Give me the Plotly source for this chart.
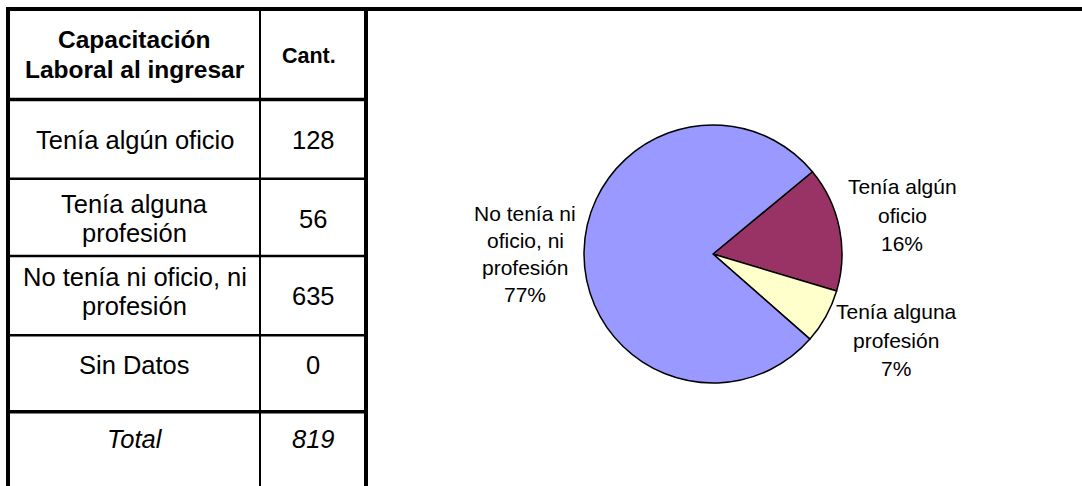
import plotly.graph_objects as go

# ---- data ----
header_labels = ["Capacitación<br>Laboral al ingresar", "Cant."]
categories = ["Tenía algún oficio", "Tenía alguna profesión",
              "No tenía ni oficio, ni profesión", "Sin Datos"]
table_labels = ["Tenía algún oficio", "Tenía alguna<br>profesión",
                "No tenía ni oficio, ni<br>profesión", "Sin Datos"]
counts = [128, 56, 635, 0]
total_label = "Total"
total_value = 819
pie_labels = ["Tenía algún<br>oficio", "Tenía alguna<br>profesión",
              "No tenía ni<br>oficio, ni<br>profesión"]
pie_pct = ["16%", "7%", "77%"]
pie_colors = ["#993366", "#FFFFCC", "#9999FF"]

W, H = 1082, 486
FONT = "Liberation Sans, Arial, sans-serif"

fig = go.Figure()

# ---- pie (only categories with data) ----
pie_vals = [v for v in counts if v > 0]
cx, cy, r = 713, 254, 129
fig.add_trace(go.Pie(
    values=pie_vals,
    labels=[l.replace("<br>", " ") for l in pie_labels],
    textinfo="none",
    sort=False,
    direction="clockwise",
    rotation=50.4,
    marker=dict(colors=pie_colors, line=dict(color="black", width=1.5)),
    showlegend=False,
    hoverinfo="label+value+percent",
    domain=dict(x=[(cx - r) / W, (cx + r) / W],
                y=[(H - cy - r) / H, (H - cy + r) / H]),
))

# ---- table geometry ----
x_left, x_mid, x_right = 8, 260, 366
y_top = 9
row_edges = [9, 99.5, 178.7, 256, 335.3, 411.7]
thick, thin = 4, 2

shapes = []
def line(x0, y0, x1, y1, w):
    shapes.append(dict(type="line", xref="x", yref="y", x0=x0, y0=y0, x1=x1, y1=y1,
                       line=dict(color="black", width=w)))

line(x_left - 2, y_top, W, y_top, thick)
line(x_left, y_top, x_left, H, thick)
line(x_mid, y_top, x_mid, H, thin)
line(x_right, y_top, x_right, H, thick)
for i, y in enumerate(row_edges[1:]):
    if i == 0 or i == len(row_edges) - 2:
        line(x_left, y, x_right + 2, y, thick - 0.5)
    else:
        line(x_left, y, x_right, y, thin + 0.5)

annotations = []
def txt(x, y, s, size, spacing, bold=False, italic=False):
    parts = s.split("<br>")
    n = len(parts)
    for k, p in enumerate(parts):
        if bold:
            p = "<b>" + p + "</b>"
        if italic:
            p = "<i>" + p + "</i>"
        annotations.append(dict(xref="x", yref="y", x=x, y=y + (k - (n - 1) / 2) * spacing,
                                text=p, showarrow=False,
                                xanchor="center", yanchor="middle", align="center",
                                font=dict(family=FONT, size=size, color="black")))

c1 = (x_left + x_mid) / 2 + 0.5
c2 = (x_mid + x_right) / 2
# text centres of the rows (header, 4 categories, total)
label_y = [54, 139.5, 218, 291.5, 364.5, 439]
value_y = [56, 139.5, 219, 296, 365, 439]

txt(c1, label_y[0], header_labels[0], 24.5, 30, bold=True)
txt(c2 - 4, value_y[0], header_labels[1], 21.5, 30, bold=True)
for i, (lab, v) in enumerate(zip(table_labels, counts)):
    txt(c1, label_y[i + 1], lab, 25.5, 29)
    txt(c2, value_y[i + 1], str(v), 25.5, 29)
txt(c1, label_y[5], total_label, 25.5, 29, italic=True)
txt(c2, value_y[5], str(total_value), 25.5, 29, italic=True)

# ---- pie labels ----
pie_label_pos = [(902, 215, 28.7), (896, 340, 28.2), (525, 253.5, 27)]
for lab, pct, (lx, ly, sp) in zip(pie_labels, pie_pct, pie_label_pos):
    txt(lx, ly, lab + "<br>" + pct, 21, sp)

fig.update_layout(
    width=W, height=H,
    margin=dict(l=0, r=0, t=0, b=0),
    paper_bgcolor="white", plot_bgcolor="white",
    xaxis=dict(range=[0, W], visible=False, domain=[0, 1], fixedrange=True),
    yaxis=dict(range=[H, 0], visible=False, domain=[0, 1], fixedrange=True),
    shapes=shapes,
    annotations=annotations,
    font=dict(family=FONT),
)

fig.write_html("out.html",
               config={"displayModeBar": False},
               post_script="document.body.style.margin='0px';document.body.style.overflow='hidden';")
